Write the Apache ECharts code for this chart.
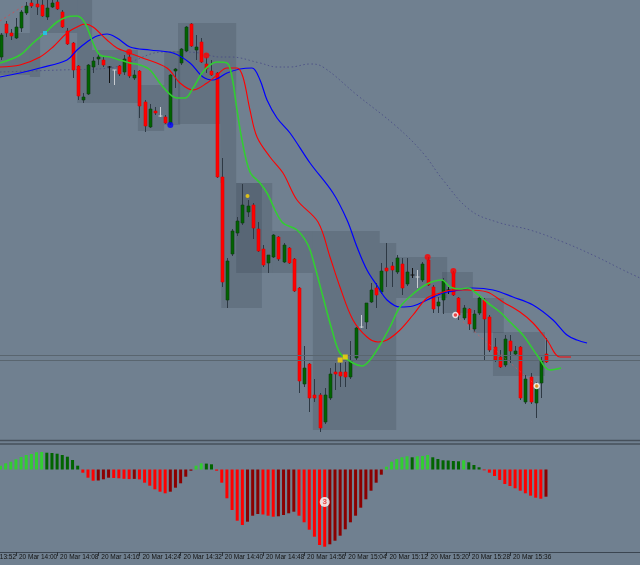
<!DOCTYPE html>
<html><head><meta charset="utf-8">
<script src="https://cdn.jsdelivr.net/npm/echarts@6/dist/echarts.min.js"></script>
<style>html,body{margin:0;padding:0;background:#708090;overflow:hidden}#c{width:640px;height:565px}</style>
</head><body><div id="c"></div>
<script>
// ---- time axis: minute 0 = 20 Mar 13:52, first bar = 13:57 ----
const dayLabel = '20 Mar';
const axisStartMinutes = 13 * 60 + 52;
const firstBarMinute = 5;
const labelMinutes = [0, 8, 16, 24, 32, 40, 48, 56, 64, 72, 80, 88, 96, 104];

// ---- candles: [open, high, low, close] (price points) ----
const ohlc = [
 [383,407,380,405],[416,419,403,407],[407,411,400,404],[402,422,401,413],[412,430,408,428],
 [427,438,425,434],[437,440,432,434],[436,440,425,433],[435,440,423,424],[423,440,420,432],
 [433,440,432,437],[438,440,430,431],[428,430,412,413],[409,412,395,396],[397,398,362,370],
 [374,375,340,344],[340,347,337,343],[346,376,345,375],[373,383,367,379],[381,387,375,383],
 [380,383,373,375],[373,374,357,373],[370,370,355,370],[374,375,364,366],[368,385,365,381],
 [383,387,362,364],[362,370,360,365],[369,370,322,334],[338,340,308,314],[313,336,312,331],
 [329,333,325,327],[324,333,323,324],[323,325,316,317],[317,366,315,365],[369,372,352,371],
 [377,392,375,391],[389,414,388,413],[416,417,393,394],[390,405,380,393],[398,402,377,378],
 [376,383,367,371],[369,380,364,365],[367,368,262,263],[263,282,153,158],[140,182,132,179],
 [186,211,184,209],[207,223,204,219],[217,256,215,235],[228,240,223,234],[235,237,201,212],
 [211,218,188,189],[191,195,173,175],[177,185,167,185],[183,206,182,205],[203,204,179,181],
 [178,197,177,195],[192,193,176,177],[181,182,148,149],[152,153,47,59],[56,94,53,72],
 [76,77,28,42],[45,61,38,42],[45,47,8,12],[18,52,16,45],[42,72,40,66],
 [68,77,50,66],[68,77,53,64],[68,78,53,63],[63,99,61,79],[82,113,80,112],
 [113,125,112,113],[118,137,111,137],[138,157,137,150],[152,157,132,145],[148,177,146,169],
 [172,197,153,169],[174,178,153,170],[168,185,166,182],[176,182,145,152],[156,182,154,168],
 [165,172,162,165],[163,170,152,163],[160,178,158,176],[180,183,154,155],[153,155,127,131],
 [134,143,127,138],[140,162,126,159],[150,153,146,150],[167,169,144,145],[142,143,120,125],
 [122,135,120,132],[131,132,110,116],[111,130,108,126],[127,145,125,142],[140,142,80,121],
 [123,125,88,90],[93,102,78,80],[83,90,72,73],[75,105,73,101],[99,105,77,89],
 [86,94,84,89],[93,94,40,42],[38,65,36,61],[63,67,36,38],[37,58,22,53],
 [57,83,42,79],[86,102,77,78]
];
const silverDoji = [22, 31, 70, 81];

// ---- oscillator histogram (one value per bar) ----
const histogram = [
 3.8,6.2,7.8,10.2,12.5,14.5,15.5,17.2,17.5,16.8,
 16.5,15.8,14.5,12.8,9.5,3.8,-3.2,-8.2,-11.2,-11.0,
 -9.8,-8.2,-8.5,-8.8,-9.3,-9.6,-9.4,-9.9,-13.2,-16.2,
 -19.8,-22.2,-23.8,-22.2,-18.2,-13.8,-7.2,-1.2,3.8,6.2,
 5.9,5.2,-1.2,-13.2,-28.8,-40.5,-51.2,-55.5,-52.2,-46.2,
 -44.5,-45.0,-46.2,-47.2,-46.8,-45.5,-43.8,-42.2,-46.2,-52.8,
 -60.2,-67.2,-75.5,-77.2,-74.8,-71.2,-66.2,-59.8,-52.8,-46.2,
 -38.2,-29.8,-21.2,-13.2,-5.2,2.8,7.8,10.5,12.2,13.2,
 12.2,13.2,13.5,14.5,12.2,10.5,9.2,9.0,8.5,8.2,
 9.2,7.2,4.5,2.2,-0.8,-3.2,-6.5,-10.5,-14.5,-16.5,
 -18.8,-21.2,-23.8,-26.2,-28.2,-29.2,-27.2
];
const histLabelPoint = [[68, -32.5, '3']];

// ---- moving averages: [minute, price] ----
const maFast = [[4.9,377],[8.79,385],[11.32,397],[13.65,407],[15.98,418],[17.92,423],[19.87,424],[21.42,417],[22.98,397],[24.33,385],[26.28,383],[28.22,380],[30.17,377],[32.11,375],[34.05,370],[36.58,353],[39.3,342],[40.85,342],[42.41,352],[44.16,367],[45.71,375],[47.07,378],[49.01,377],[49.99,363],[50.96,330],[51.93,300],[53.48,268],[55.43,257],[56.79,247],[59.7,218],[62.62,210],[64.76,195],[66.12,173],[67.67,143],[69.42,110],[70.97,87],[73.5,77],[75.25,74],[76.8,80],[78.75,95],[80.69,113],[82.63,133],[85.16,146],[87.88,156],[90.79,160],[92.35,153],[94.29,151],[95.84,152],[97.4,147],[99.73,137],[102.06,128],[104.01,118],[106.53,105],[109.25,85],[111.78,70],[113.92,72]];
const maMid = [[4.9,373],[8.79,375],[12.68,383],[15.2,393],[17.92,407],[19.87,413],[21.42,416],[22.98,413],[25.7,400],[27.64,392],[29.58,388],[32.11,383],[37.35,372],[39.88,357],[42.41,350],[45.13,357],[47.07,365],[49.01,372],[50.96,372],[52.12,363],[53.48,330],[54.85,303],[57.37,283],[59.9,267],[62.62,240],[66.7,218],[69.03,183],[70.97,153],[73.5,120],[76.22,103],[78.36,98],[80.11,100],[82.63,110],[85.16,125],[87.88,142],[90.41,147],[92.94,150],[95.66,150],[99.54,148],[102.65,138],[105.95,128],[108.48,117],[111.2,100],[113.72,83],[115.86,83]];
const maSlow = [[4.9,363],[8.79,367],[12.68,372],[17.92,380],[19.87,390],[21.81,398],[23.75,404],[25.7,406],[27.64,402],[30.17,393],[34.05,390],[38.52,387],[41.83,377],[44.35,363],[46.3,360],[49.01,367],[51.54,371],[53.87,372],[55.43,360],[56.79,340],[58.73,322],[61.26,307],[65.15,277],[69.62,247],[72.34,220],[74.28,193],[76.22,170],[78.36,153],[80.11,140],[82.63,133],[85.16,134],[87.88,140],[90.99,147],[94.29,150],[96.82,152],[100.71,150],[104.59,143],[108.48,135],[112.37,120],[115.09,105],[117.04,100],[118.98,97]];
const maLong = [[4.9,368],[16.56,370],[26.28,372],[30.17,378],[36.58,388],[39.88,388],[43.77,387],[47.66,383],[49.6,383],[55.43,377],[58.73,373],[61.26,373],[65.15,376],[67.67,373],[74.28,345],[82.05,313],[87.1,287],[90.99,260],[96.23,230],[101.48,218],[107.9,210],[114.31,198],[120.92,183],[125.97,170],[129.27,162]];

// ---- horizontal levels, trend segments, signal markers ----
const levels = [85, 79.5];
const trendA = [[4.9,419],[9.76,435]];
const trendB = [[93.4,125],[109.2,54]];
const redDots = [[30,388],[45,384.5],[88,183],[93,169]];
const blueDots = [[38,315]];
const cyanSquares = [[13.65,407]];
const yellowDots = [[53,244]];
const yellowSquares = [[71,80],[72,83]];
const whiteMarks = [[93.4,125]];
const orangeMarks = [[109.2,54]];

// ---- shaded zones: [fromMinute, toMinute, top, bottom] ----
const zones = [
 [4.9,10.7,407,365],[10.7,12.7,440,363],[12.7,19.9,440,407],[19.9,22.8,440,337],
 [22.8,31.7,390,337],[31.7,36.8,355,309],[36.8,39.9,389,315],[39.5,50.8,417,316],
 [47.7,50.8,316,257],[47.9,55.8,257,132],[50.8,57.8,257,167],[57.8,65.7,209,167],
 [65.7,78.7,209,10],[78.7,81.9,197,10],[81.9,91.8,183,142],[90.8,96.8,168,127],
 [96.8,102.8,142,107],[100.7,110.8,108,64]
];

// ------------------------------------------------------------
const barSpacing = 5.146;                 // px per minute
const xMin = firstBarMinute - 0.5 / barSpacing;
const xMax = xMin + 640 / barSpacing;
const candleData = ohlc.map((d, i) => [firstBarMinute + i, d[0], d[1], d[2], d[3]]);
const histData = histogram.map((v, i) => [firstBarMinute + i, v]);

function pad(n) { return (n < 10 ? '0' : '') + n; }
function timeLabel(v) {
  const t = axisStartMinutes + Math.round(v);
  return dayLabel + ' ' + pad(Math.floor(t / 60)) + ':' + pad(t % 60);
}
const visibleLabels = labelMinutes.filter(v => v >= xMin);
const cutLabel = labelMinutes.filter(v => v < xMin);

function renderZone(params, api) {
  const p0 = api.coord([api.value(0), api.value(2)]);
  const p1 = api.coord([api.value(1), api.value(3)]);
  return { type: 'rect', shape: { x: p0[0], y: p0[1], width: p1[0] - p0[0], height: p1[1] - p0[1] },
    style: { fill: 'rgba(38,46,58,0.17)' } };
}

function renderCandle(params, api) {
  const m = api.value(0), o = api.value(1), h = api.value(2), l = api.value(3), c = api.value(4);
  const pO = api.coord([m, o]), pC = api.coord([m, c]), pH = api.coord([m, h]), pL = api.coord([m, l]);
  const x = Math.round(pO[0]) + 0.5;
  const bw = 3;
  if (o === c) {
    const col = silverDoji.indexOf(params.dataIndex) >= 0 ? '#c9cdd2' : '#111111';
    return { type: 'group', children: [
      { type: 'line', shape: { x1: x, y1: pH[1], x2: x, y2: pL[1] }, style: { stroke: col, lineWidth: 1 } },
      { type: 'line', shape: { x1: x - 2, y1: pO[1], x2: x + 2, y2: pO[1] }, style: { stroke: col, lineWidth: 1 } }
    ] };
  }
  const up = c > o;
  const top = Math.min(pO[1], pC[1]);
  const hh = Math.max(Math.abs(pO[1] - pC[1]), 1);
  return { type: 'group', children: [
    { type: 'line', shape: { x1: x, y1: pH[1], x2: x, y2: pL[1] }, style: { stroke: '#2e3944', lineWidth: 1 } },
    { type: 'rect', shape: { x: x - bw / 2, y: top, width: bw, height: hh },
      style: { fill: up ? '#006400' : '#ff0000', stroke: up ? '#0d3b12' : '#e00000', lineWidth: 0.6 } }
  ] };
}

function histColor(p) {
  const i = p.dataIndex, v = histogram[i], pv = i > 0 ? histogram[i - 1] : v;
  if (v >= 0) return v >= pv ? '#32cd32' : '#006400';
  return v <= pv ? '#ff0000' : '#8b0000';
}

const chart = echarts.init(document.getElementById('c'), null, { renderer: 'canvas', width: 640, height: 565 });

function lineSeries(data, color, width, extra) {
  return Object.assign({ type: 'line', xAxisIndex: 0, yAxisIndex: 0, data: data, showSymbol: false,
    smooth: 0.35, silent: true, z: 5, lineStyle: { color: color, width: width } }, extra || {});
}
function scatter(data, symbol, size, color, extra) {
  return Object.assign({ type: 'scatter', xAxisIndex: 0, yAxisIndex: 0, data: data, symbol: symbol,
    symbolSize: size, silent: true, z: 8, itemStyle: { color: color } }, extra || {});
}

chart.setOption({
  animation: false,
  backgroundColor: '#708090',
  textStyle: { fontFamily: 'Liberation Sans' },
  grid: [
    { left: 0, top: 0, right: 0, height: 440 },
    { left: 0, top: 445, right: 0, height: 107 }
  ],
  xAxis: [
    { gridIndex: 0, type: 'value', min: xMin, max: xMax, show: false },
    { gridIndex: 1, type: 'value', min: xMin, max: xMax,
      axisLine: { show: true, onZero: false, lineStyle: { color: '#3b4550', width: 1 } },
      axisTick: { show: true, customValues: visibleLabels, length: 4, lineStyle: { color: '#2b333b' } },
      axisLabel: { show: true, customValues: visibleLabels, formatter: timeLabel, align: 'left',
        margin: 2, padding: [0, 0, 0, 3], fontSize: 6.5, color: '#121212', fontFamily: 'Liberation Sans' },
      splitLine: { show: false } }
  ],
  yAxis: [
    { gridIndex: 0, type: 'value', min: 0, max: 440, show: false },
    { gridIndex: 1, type: 'value', min: -82.5, max: 24.5, show: false }
  ],
  graphic: [
    { type: 'line', shape: { x1: 0, y1: 440.5, x2: 640, y2: 440.5 }, style: { stroke: '#46505b', lineWidth: 1.5 }, z: 100 },
    { type: 'line', shape: { x1: 0, y1: 444, x2: 640, y2: 444 }, style: { stroke: '#46505b', lineWidth: 1.5 }, z: 100 }
  ].concat(cutLabel.map(v => ({
    type: 'text', z: 100,
    x: (v - xMin) * barSpacing + 3, y: 554,
    style: { text: timeLabel(v), fontSize: 6.5, fill: '#121212', fontFamily: 'Liberation Sans', verticalAlign: 'top', align: 'left' }
  }))),
  series: [
    { type: 'custom', xAxisIndex: 0, yAxisIndex: 0, data: zones, renderItem: renderZone, silent: true, z: 1,
      encode: { x: [0, 1], y: [2, 3] } },
    { type: 'line', xAxisIndex: 0, yAxisIndex: 0, data: [], silent: true, z: 2,
      markLine: { silent: true, symbol: 'none', label: { show: false },
        lineStyle: { color: '#59656f', width: 1, type: 'solid' },
        data: levels.map(v => ({ yAxis: v })) } },
    lineSeries(maLong, '#4a4c86', 1, { smooth: 0.4, lineStyle: { color: '#4a4c86', width: 1, type: [1.5, 2.5], opacity: 0.85 }, z: 3 }),
    { type: 'custom', xAxisIndex: 0, yAxisIndex: 0, data: candleData, renderItem: renderCandle, silent: true, z: 4,
      encode: { x: 0, y: [1, 2, 3, 4] } },
    lineSeries(trendA, '#ff3030', 1, { smooth: false, lineStyle: { color: '#ff3030', width: 1, type: [2, 3], opacity: 0.6 } }),
    lineSeries(trendB, '#ff3030', 1, { smooth: false, lineStyle: { color: '#ff5050', width: 1, type: [2, 3], opacity: 0.5 } }),
    lineSeries(maSlow, '#0000ff', 1.2),
    lineSeries(maMid, '#ff0000', 1.1),
    lineSeries(maFast, '#32cd32', 1.6),
    scatter(redDots, 'circle', 6, '#ff0000'),
    scatter(blueDots, 'circle', 6, '#0000ff'),
    scatter(cyanSquares, 'rect', 4, '#1ec8ff'),
    scatter(yellowDots, 'circle', 4, '#ffd700'),
    scatter(yellowSquares, 'rect', 5, '#ffd700'),
    scatter(whiteMarks, 'circle', 5, '#ff3b3b', { itemStyle: { color: '#ff3b3b', borderColor: '#ffffff', borderWidth: 1.5 } }),
    scatter(orangeMarks, 'circle', 5, '#ffa020', { itemStyle: { color: '#ffa020', borderColor: '#ffffff', borderWidth: 1.5 } }),
    { type: 'bar', xAxisIndex: 1, yAxisIndex: 1, data: histData, barWidth: 3, silent: true, z: 3,
      itemStyle: { color: histColor } },
    { type: 'scatter', xAxisIndex: 1, yAxisIndex: 1, data: histLabelPoint, symbol: 'circle', symbolSize: 10,
      silent: true, z: 9, itemStyle: { color: '#ffffff' },
      label: { show: true, position: 'inside', formatter: p => p.value[2], color: '#e03030', fontSize: 8, fontWeight: 'bold' } }
  ]
});
</script>
</body></html>
